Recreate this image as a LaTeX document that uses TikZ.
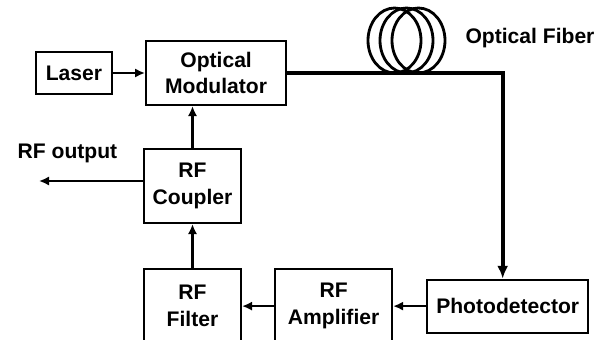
\documentclass[tikz,border=0pt]{standalone}
\usepackage{fontspec}
\setmainfont{Liberation Sans}
\usetikzlibrary{positioning,arrows.meta}

\begin{document}
\begin{tikzpicture}[
        node distance=0.8cm and 0.8cm,
        block/.style={draw, line width=1.5pt, rectangle, align=center,
            font=\bfseries\fontsize{15}{19}\selectfont},
        lbl/.style={align=center, font=\bfseries\fontsize{15}{19}\selectfont},
        link/.style={line width=1.5pt, -{Latex[length=2.5mm,width=2.3mm]}}
    ]
        \useasboundingbox (0,0) rectangle (15.125,8.475);

        \node (laser) [block, minimum width=1.9cm, minimum height=1.05cm] at (1.85,6.65) {Laser};
        \node (mod) [block, minimum width=3.5cm, minimum height=1.6cm, right=of laser] {Optical\\Modulator};
        \node (coup) [block, minimum width=2.425cm, minimum height=1.85cm] at (4.8125,3.825) {RF\\Coupler};
        \node (filt) [block, minimum width=2.425cm, minimum height=1.85cm, below=1.1cm of coup] {RF\\Filter};
        \node (amp) [block, minimum width=2.925cm, minimum height=1.85cm, right=of filt] {RF\\Amplifier};
        \node (pd) [block, minimum width=4.025cm, minimum height=1.325cm, right=0.825cm of amp] {Photodetector};

        \node (fib) [lbl] at (13.25,7.525) {Optical Fiber};
        \node (rfout) [lbl] at (1.6875,4.65) {RF output};
        \coordinate (out) at (0.975,3.95);

        % fiber coil
        \foreach \cx in {9.8625,10.1625,10.4625}
            \draw[line width=2pt] (\cx,7.4625) ellipse (0.6625cm and 0.8125cm);

        \draw[link] (laser) -- (mod);
        \draw[line width=3pt, -{Latex[length=3.2mm,width=2.8mm]}] (mod.east) -| ([xshift=-0.125cm]pd.north);
        \draw[link] (pd) -- (amp);
        \draw[link] (amp) -- (filt);
        \draw[link] (filt) -- (coup);
        \draw[link] (coup.north) -- (coup.north |- mod.south);
        \draw[link] (coup.west |- out) -- (out);
    \end{tikzpicture}
\end{document}
